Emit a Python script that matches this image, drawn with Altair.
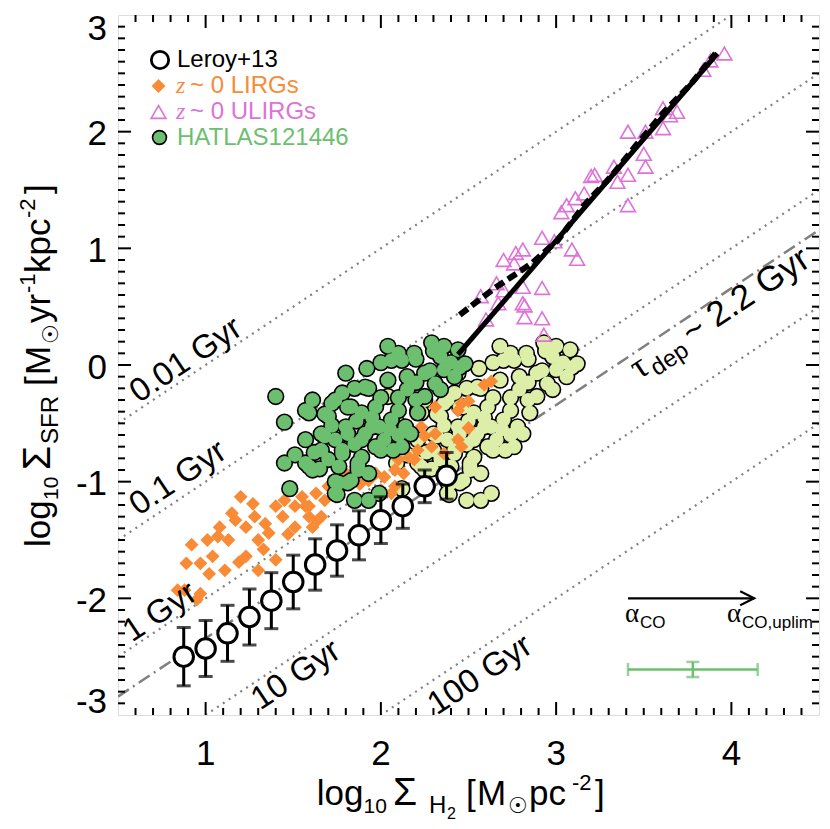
import altair as alt
import numpy as np
import pandas as pd

FONT = "Liberation Sans, DejaVu Sans"
SERIF = "Liberation Serif, DejaVu Serif"
PX0, PY0 = 118, 15          # page position of the plot origin
W, H = 701, 700

# ---------------- data ----------------
LEROY_X = [0.875, 1.0, 1.125, 1.25, 1.375, 1.5, 1.625, 1.75, 1.875, 2.0, 2.125, 2.25, 2.375]
LEROY_Y = [-2.50, -2.43, -2.30, -2.16, -2.02, -1.86, -1.71, -1.59, -1.46, -1.33, -1.21, -1.04, -0.95]
LEROY_ERR = [0.25, 0.24, 0.24, 0.24, 0.24, 0.23, 0.22, 0.22, 0.21, 0.20, 0.19, 0.14, 0.20]

LIRG_XY = [(1.20,-1.13),(1.27,-1.19),(0.92,-1.54),(1.01,-1.50),(1.07,-1.47),(1.13,-1.50),(0.89,-1.70),(0.97,-1.70),
           (1.04,-1.64),(1.11,-1.76),(1.02,-1.79),(1.23,-1.64),(1.40,-1.67),(1.30,-1.76),(0.88,-1.93),(0.97,-1.96),
           (1.17,-1.33),(1.23,-1.39),(1.28,-1.30),(1.34,-1.36),(1.36,-1.44),(1.30,-1.50),(1.40,-1.21),(1.45,-1.16),
           (1.44,-1.30),(1.51,-1.21),(1.55,-1.13),(1.59,-1.21),(1.63,-1.10),(1.66,-1.30),(1.61,-1.39),(1.70,-1.04),
           (1.78,-0.99),(1.93,-0.99),(1.97,-0.93),(1.68,-1.16),(1.74,-1.13),(1.51,-1.39),(1.15,-1.27),(1.08,-1.39),
           (2.63,-0.14),(2.59,-0.17),(2.46,-0.33),(2.50,-0.31),(2.44,-0.39),(2.31,-0.36),(2.50,-0.54),(2.44,-0.64),
           (2.46,-0.70),(2.36,-0.76),(2.31,-0.59),(2.25,-0.61),(2.29,-0.70),(2.21,-0.73),(2.16,-0.79),(2.10,-0.81),
           (2.19,-0.81),(2.08,-0.90),(2.13,-0.93),(2.02,-0.96),(2.00,-1.07),(2.06,-1.10),(2.08,-1.04),(1.57,-1.21),
           (1.64,-1.33),(1.59,-1.30),(1.80,-0.93),(2.23,-0.53),(0.84,-1.93),(0.95,-2.01),(1.19,-1.69),(1.33,-1.58),
           (1.47,-1.45),(1.88,-1.02)]

ULIRG_XY = [(3.96,2.67),(3.88,2.61),(3.84,2.53),(3.61,2.20),(3.69,2.17),(3.65,2.14),(3.61,2.03),(3.41,2.00),
            (3.51,2.00),(3.50,1.81),(3.51,1.70),(3.41,1.63),(3.35,1.57),(3.33,1.70),(3.22,1.63),(3.20,1.62),
            (3.16,1.47),(3.11,1.43),(3.06,1.37),(3.03,1.31),(3.41,1.37),(3.09,0.99),(3.12,0.91),(2.92,1.09),
            (2.99,1.06),(2.70,0.90),(2.77,0.96),(2.81,0.99),(2.76,0.87),(2.66,0.70),(2.57,0.59),(2.70,0.64),
            (2.81,0.67),(2.81,0.53),(2.82,0.51),(2.92,0.66),(2.82,0.41),(2.60,0.39),(2.92,0.40),(2.93,0.26),
            (2.67,0.53)]

HATLAS_XY = [(1.40,-0.27),(1.61,-0.30),(1.57,-0.39),(1.45,-0.49),(1.70,-0.44),(1.57,-0.64),(1.45,-0.84),(1.51,-0.77),(1.59,-0.87),(1.65,-0.89),
             (1.48,-1.06),(1.74,-1.00),(1.81,-1.01),(1.75,-1.11),(1.85,-1.16),(1.93,-1.16),(1.92,-0.03),(1.80,-0.07),(1.85,-0.20),(1.93,-0.20),
             (1.74,-0.30),(1.81,-0.36),(1.89,-0.41),(1.66,-0.59),(1.74,-0.64),(1.81,-0.59),(1.89,-0.64),(1.78,-0.73),(1.89,-0.79),(1.97,-0.70),
             (1.95,-0.53),(1.87,-0.87),(1.93,-0.93),(1.70,-0.81),(2.04,0.16),(2.12,0.04),(2.29,0.19),(2.36,0.16),(2.44,0.13),(2.48,0.01),
             (2.19,0.10),(2.42,-0.10),(2.34,-0.21),(2.15,-0.21),(2.04,-0.13),(1.91,-0.19),(1.78,-0.24),(1.72,-0.33),(1.59,-0.41),(1.83,-0.36),
             (1.97,-0.36),(2.10,-0.39),(2.25,-0.27),(2.14,-0.53),(2.02,-0.64),(1.91,-0.59),(1.80,-0.53),(1.68,-0.61),(1.66,-0.73),(1.78,-0.76),
             (2.00,-0.73),(2.12,-0.70),(2.17,-0.59),(1.87,-0.84),(1.76,-0.87),(1.61,-0.90),(1.57,-0.84),(1.76,-1.01),(1.83,-0.99),(1.74,-1.10),
             (1.99,-1.10),(1.87,-0.90),(1.99,-0.53),(2.06,-0.47),(2.21,-0.41),(2.31,-0.16),(2.36,-0.04),(2.25,-0.07),(2.15,-0.10),(2.06,0.04),
             (2.34,0.07),(2.00,-0.28),(2.10,-0.28),(2.20,-0.15),(2.28,-0.05),(2.40,0.02),(2.10,0.10),(2.20,0.05),(2.00,0.02),(1.95,-0.45),
             (2.05,-0.55),(1.86,-0.48),(1.72,-0.52),(1.85,-0.68),(2.10,-0.60),(2.20,-0.30),(2.07,-0.73),(1.62,-0.75),(1.68,-0.42),(2.45,-0.02),
             (2.30,0.12)]

HATLAS_UPLIM_XY = [(2.04,-0.27),(2.25,-0.30),(2.21,-0.39),(2.09,-0.49),(2.34,-0.44),(2.21,-0.64),(2.09,-0.84),(2.15,-0.77),(2.23,-0.87),(2.29,-0.89),
                   (2.12,-1.06),(2.38,-1.00),(2.45,-1.01),(2.39,-1.11),(2.49,-1.16),(2.57,-1.16),(2.56,-0.03),(2.44,-0.07),(2.49,-0.20),(2.57,-0.20),
                   (2.38,-0.30),(2.45,-0.36),(2.53,-0.41),(2.30,-0.59),(2.38,-0.64),(2.45,-0.59),(2.53,-0.64),(2.42,-0.73),(2.53,-0.79),(2.61,-0.70),
                   (2.59,-0.53),(2.51,-0.87),(2.57,-0.93),(2.34,-0.81),(2.68,0.16),(2.76,0.04),(2.93,0.19),(3.00,0.16),(3.08,0.13),(3.12,0.01),
                   (2.83,0.10),(3.06,-0.10),(2.98,-0.21),(2.79,-0.21),(2.68,-0.13),(2.55,-0.19),(2.42,-0.24),(2.36,-0.33),(2.23,-0.41),(2.47,-0.36),
                   (2.61,-0.36),(2.74,-0.39),(2.89,-0.27),(2.78,-0.53),(2.66,-0.64),(2.55,-0.59),(2.44,-0.53),(2.32,-0.61),(2.30,-0.73),(2.42,-0.76),
                   (2.64,-0.73),(2.76,-0.70),(2.81,-0.59),(2.51,-0.84),(2.40,-0.87),(2.25,-0.90),(2.21,-0.84),(2.40,-1.01),(2.47,-0.99),(2.38,-1.10),
                   (2.63,-1.10),(2.51,-0.90),(2.63,-0.53),(2.70,-0.47),(2.85,-0.41),(2.95,-0.16),(3.00,-0.04),(2.89,-0.07),(2.79,-0.10),(2.70,0.04),
                   (2.98,0.07),(2.64,-0.28),(2.74,-0.28),(2.84,-0.15),(2.92,-0.05),(3.04,0.02),(2.74,0.10),(2.84,0.05),(2.64,0.02),(2.59,-0.45),
                   (2.69,-0.55),(2.50,-0.48),(2.36,-0.52),(2.49,-0.68),(2.74,-0.60),(2.84,-0.30),(2.71,-0.73),(2.26,-0.75),(2.32,-0.42),(3.09,-0.02),
                   (2.94,0.12)]

FIT_SOLID_X = [2.44, 3.92]
FIT_SOLID_Y = [0.09, 2.67]
FIT_DASH_X = [2.45, 2.65, 2.86, 3.01, 3.16, 3.31, 3.46, 3.61, 3.77, 3.91]
FIT_DASH_Y = [0.43, 0.66, 0.87, 1.07, 1.37, 1.61, 1.89, 2.16, 2.41, 2.67]

TAU_GYR = [0.01, 0.1, 1, 10, 100]
TAU_LABELS = ["0.01 Gyr", "0.1 Gyr", "1 Gyr", "10 Gyr", "100 Gyr"]
TAU_DEP_GYR = 2.2

ARROW_X = [3.41, 4.13]
ARROW_Y = -2.0
ERRBAR_X, ERRBAR_Y = 3.78, -2.61
ERRBAR_DX, ERRBAR_DY = 0.37, 0.065

X_TICKS = [1, 2, 3, 4]
X_TICK_LABELS = ["1", "2", "3", "4"]
Y_TICKS = [-3, -2, -1, 0, 1, 2, 3]
Y_TICK_LABELS = ["-3", "-2", "-1", "0", "1", "2", "3"]

# ---------------- colours ----------------
ORANGE = "#F98B36"
ORCHID = "#DD72D8"
GREEN = "#6CBF6F"
LIGHT = "#DDEEA8"
GREY = "#808080"

xs = alt.Scale(domain=[0.5, 4.5], nice=False, zero=False)
ys = alt.Scale(domain=[-3, 3], nice=False, zero=False)


def enc(xf="x", yf="y"):
    return dict(x=alt.X(f"{xf}:Q", scale=xs, axis=None), y=alt.Y(f"{yf}:Q", scale=ys, axis=None))


def xy_df(pairs):
    return pd.DataFrame(pairs, columns=["x", "y"])


layers = []

# depletion-time lines
rows = []
for t, lab in zip(TAU_GYR, TAU_LABELS):
    for xv in (0.5, 4.5):
        rows.append({"tau": lab, "x": xv, "y": xv + 6 - np.log10(t * 1e9)})
tau_df = pd.DataFrame(rows)
layers.append(alt.Chart(tau_df).mark_line(clip=True, color=GREY, strokeDash=[2, 5], strokeWidth=2.2).encode(
    **enc(), detail="tau:N"))

dep_df = pd.DataFrame({"x": [0.5, 4.5], "y": [0.5 + 6 - np.log10(TAU_DEP_GYR * 1e9), 4.5 + 6 - np.log10(TAU_DEP_GYR * 1e9)]})
layers.append(alt.Chart(dep_df).mark_line(clip=True, color=GREY, strokeDash=[13, 5, 2, 5], strokeWidth=2.5).encode(**enc()))

# HATLAS (alpha_CO upper limit) light cloud
up_df = xy_df(HATLAS_UPLIM_XY)
layers.append(alt.Chart(up_df).mark_point(shape="circle", filled=True, color="black", opacity=1, size=300).encode(**enc()))
layers.append(alt.Chart(up_df).mark_point(shape="circle", filled=True, color=LIGHT, opacity=1, size=200).encode(**enc()))

# LIRGs
layers.append(alt.Chart(xy_df(LIRG_XY)).mark_point(shape="diamond", filled=True, color=ORANGE, opacity=1, size=190).encode(**enc()))

# HATLAS dark cloud
hd = xy_df(HATLAS_XY)
layers.append(alt.Chart(hd).mark_point(shape="circle", filled=True, color="black", opacity=1, size=300).encode(**enc()))
layers.append(alt.Chart(hd).mark_point(shape="circle", filled=True, color=GREEN, opacity=1, size=200).encode(**enc()))

# ULIRGs
layers.append(alt.Chart(xy_df(ULIRG_XY)).mark_point(shape="triangle-up", filled=False, color=ORCHID, opacity=1,
                                                     size=220, strokeWidth=1.6).encode(**enc()))

# Leroy+13
ld = pd.DataFrame({"x": LEROY_X, "y": LEROY_Y, "err": LEROY_ERR})
ld["lo"] = ld["y"] - ld["err"]
ld["hi"] = ld["y"] + ld["err"]
layers.append(alt.Chart(ld).mark_rule(color="black", strokeWidth=3).encode(
    x=alt.X("x:Q", scale=xs, axis=None), y=alt.Y("lo:Q", scale=ys, axis=None), y2="hi:Q"))
for f in ("lo", "hi"):
    layers.append(alt.Chart(ld).mark_tick(orient="horizontal", color="black", size=14, thickness=3).encode(**enc("x", f)))
layers.append(alt.Chart(ld).mark_point(shape="circle", filled=True, fill="white", stroke="black", strokeWidth=3,
                                       opacity=1, size=380).encode(**enc()))

# fits
layers.append(alt.Chart(pd.DataFrame({"x": FIT_SOLID_X, "y": FIT_SOLID_Y})).mark_line(
    color="black", strokeWidth=5).encode(**enc()))
layers.append(alt.Chart(pd.DataFrame({"x": FIT_DASH_X, "y": FIT_DASH_Y})).mark_line(
    color="black", strokeWidth=6, strokeDash=[10, 5]).encode(**enc()))

# alpha_CO arrow
ar = pd.DataFrame({"x": [ARROW_X[0]], "x2": [ARROW_X[1]], "y": [ARROW_Y]})
layers.append(alt.Chart(ar).mark_rule(color="black", strokeWidth=2.2).encode(
    x=alt.X("x:Q", scale=xs, axis=None), x2="x2:Q", y=alt.Y("y:Q", scale=ys, axis=None)))
layers.append(alt.Chart(pd.DataFrame({"x": [ARROW_X[1]], "y": [ARROW_Y]})).mark_point(
    shape="M-1,-0.5L0,0L-1,0.5", filled=False, color="black", strokeWidth=2.2, size=784, opacity=1).encode(**enc()))

# representative uncertainty
eb = pd.DataFrame({"x": [ERRBAR_X], "y": [ERRBAR_Y], "xl": [ERRBAR_X - ERRBAR_DX], "xh": [ERRBAR_X + ERRBAR_DX],
                   "yl": [ERRBAR_Y - ERRBAR_DY], "yh": [ERRBAR_Y + ERRBAR_DY]})
layers.append(alt.Chart(eb).mark_rule(color=GREEN, strokeWidth=2.5).encode(
    x=alt.X("xl:Q", scale=xs, axis=None), x2="xh:Q", y=alt.Y("y:Q", scale=ys, axis=None)))
layers.append(alt.Chart(eb).mark_rule(color=GREEN, strokeWidth=2.5).encode(
    x=alt.X("x:Q", scale=xs, axis=None), y=alt.Y("yl:Q", scale=ys, axis=None), y2="yh:Q"))
for f in ("xl", "xh"):
    layers.append(alt.Chart(eb).mark_tick(orient="vertical", color=GREEN, size=13, thickness=2.5).encode(**enc(f, "y")))
for f in ("yl", "yh"):
    layers.append(alt.Chart(eb).mark_tick(orient="horizontal", color=GREEN, size=13, thickness=2.5).encode(**enc("x", f)))

# inward ticks on all four sides
x_minor = [v for v in np.round(np.arange(0.6, 4.45, 0.1), 1) if abs(v - round(v)) > 1e-6]
y_minor = [v for v in np.round(np.arange(-2.9, 2.95, 0.1), 1) if abs(v - round(v)) > 1e-6]
xt = pd.DataFrame({"v": X_TICKS})
xm = pd.DataFrame({"v": x_minor})
yt = pd.DataFrame({"v": [-2, -1, 0, 1, 2]})
ym = pd.DataFrame({"v": y_minor})
for d, L in ((xt, 13), (xm, 7)):
    vx = alt.X("v:Q", scale=xs, axis=None)
    layers.append(alt.Chart(d).mark_rule(color="black", strokeWidth=2).encode(x=vx, y=alt.value(H), y2=alt.value(H - L)))
    layers.append(alt.Chart(d).mark_rule(color="black", strokeWidth=2).encode(x=vx, y=alt.value(0), y2=alt.value(L)))
for d, L in ((yt, 13), (ym, 7)):
    vy = alt.Y("v:Q", scale=ys, axis=None)
    layers.append(alt.Chart(d).mark_rule(color="black", strokeWidth=2).encode(y=vy, x=alt.value(0), x2=alt.value(L)))
    layers.append(alt.Chart(d).mark_rule(color="black", strokeWidth=2).encode(y=vy, x=alt.value(W), x2=alt.value(W - L)))

# tick labels (drawn through the scales)
xl_df = pd.DataFrame({"v": X_TICKS, "lab": X_TICK_LABELS})
layers.append(alt.Chart(xl_df).mark_text(font=FONT, fontSize=35, color="black", align="center",
                                         baseline="alphabetic").encode(
    x=alt.X("v:Q", scale=xs, axis=None), y=alt.value(H + 50), text="lab:N"))
yl_df = pd.DataFrame({"v": Y_TICKS, "lab": Y_TICK_LABELS})
for sel, dy in (("mid", 13.5), ("top", 24.5), ("bot", -2)):
    if sel == "mid":
        d = yl_df.iloc[1:-1]
    elif sel == "top":
        d = yl_df.iloc[-1:]
    else:
        d = yl_df.iloc[:1]
    layers.append(alt.Chart(d).mark_text(font=FONT, fontSize=35, color="black", align="right",
                                         baseline="alphabetic", dy=dy).encode(
        y=alt.Y("v:Q", scale=ys, axis=None), x=alt.value(-11), text="lab:N"))


# ---------------- text (pixel placed, one layer per piece) ----------------
ONE = pd.DataFrame({"a": [0]})


def P(px, py):
    return px - PX0, py - PY0


def txt(s, px, py, size, angle=0, color="black", font=FONT, style="normal", align="left", baseline="alphabetic"):
    return alt.Chart(ONE).mark_text(text=s, fontSize=size, angle=angle, color=color, font=font, fontStyle=style,
                                    align=align, baseline=baseline).encode(x=alt.value(float(px)), y=alt.value(float(py)))


# x title (page coords of each piece)
for s, px, py, sz in [("log", 316.7, 805, 35), ("10", 363.5, 813, 21), ("Σ", 393, 805, 39), ("H", 429, 813, 24),
                      ("2", 447, 819, 16), ("[", 466, 805, 35), ("M", 477, 805, 35), ("☉", 508, 813, 22),
                      ("pc", 529, 805, 35), ("-2", 572, 790, 22), ("]", 595, 805, 35)]:
    layers.append(txt(s, *P(px, py), sz))

# y title (rotated, reading upward)
YT_BASE_X, YT_START_Y = 50, 547
for off, s, sz, sh in [(0, "log", 35, 0), (47, "10", 21, 8), (77, "Σ", 39, 0), (103, "SFR", 24, 8),
                       (161, "[", 35, 0), (172, "M", 35, 0), (203, "☉", 22, 8), (224, "yr", 35, 0),
                       (254, "-1", 22, -15), (274, "kpc", 35, 0), (329, "-2", 22, -15), (353, "]", 35, 0)]:
    layers.append(txt(s, *P(YT_BASE_X + sh, YT_START_Y - off), sz, angle=270))

# depletion-time labels
ang = np.degrees(np.arctan((H / 6.0) / (W / 4.0)))
rot = 360 - ang
for s, (px, py) in zip(TAU_LABELS, [(186, 360), (178, 478), (160, 612), (296, 675), (480, 675)]):
    layers.append(txt(s, *P(px, py), 33, angle=rot, align="center", baseline="middle"))

# tau_dep label built from pieces along the rotated baseline
dvec = np.array([np.cos(np.radians(ang)), -np.sin(np.radians(ang))])
nvec = np.array([np.sin(np.radians(ang)), np.cos(np.radians(ang))])
start = np.array(P(639, 380))
for s, off, sh, sz, fnt in [("τ", 0, 0, 36, SERIF), ("dep", 17, 7, 24, FONT), ("~ 2.2 Gyr", 63, 0, 35, FONT)]:
    p = start + dvec * off + nvec * sh
    layers.append(txt(s, p[0], p[1], sz, angle=rot, font=fnt))

# legend
layers.append(alt.Chart(ONE).mark_point(shape="circle", filled=True, fill="white", stroke="black", strokeWidth=2.8,
                                        size=300, opacity=1).encode(x=alt.value(42), y=alt.value(45)))
layers.append(alt.Chart(ONE).mark_point(shape="diamond", filled=True, color=ORANGE, size=190, opacity=1).encode(
    x=alt.value(40.5), y=alt.value(71)))
layers.append(alt.Chart(ONE).mark_point(shape="triangle-up", filled=False, color=ORCHID, size=220, strokeWidth=1.6,
                                        opacity=1).encode(x=alt.value(40.5), y=alt.value(97)))
layers.append(alt.Chart(ONE).mark_point(shape="circle", filled=True, color="black", size=240, opacity=1).encode(
    x=alt.value(41.5), y=alt.value(122.5)))
layers.append(alt.Chart(ONE).mark_point(shape="circle", filled=True, color=GREEN, size=150, opacity=1).encode(
    x=alt.value(41.5), y=alt.value(122.5)))
layers.append(txt("Leroy+13", 59, 52, 24))
layers.append(txt("z", 58, 78, 24, color=ORANGE, font=SERIF, style="italic"))
layers.append(txt("~ 0 LIRGs", 72, 78, 24, color=ORANGE))
layers.append(txt("z", 58, 104, 24, color=ORCHID, font=SERIF, style="italic"))
layers.append(txt("~ 0 ULIRGs", 72, 104, 24, color=ORCHID))
layers.append(txt("HATLAS121446", 59, 129.5, 24, color=GREEN))

# alpha_CO labels
layers.append(txt("α", *P(625, 622), 27, font=SERIF))
layers.append(txt("CO", *P(640, 628), 17))
layers.append(txt("α", *P(727, 622), 27, font=SERIF))
layers.append(txt("CO,uplim", *P(742, 628), 17))

chart = alt.layer(*layers).properties(
    width=W, height=H,
    autosize=alt.AutoSizeParams(type="none"),
    padding={"left": PX0 - 8, "top": PY0 - 8, "right": 1, "bottom": 110},
).configure_view(stroke="black", strokeWidth=2).configure(background="white")

chart.save("out.html", embed_options={"renderer": "svg", "actions": False})
